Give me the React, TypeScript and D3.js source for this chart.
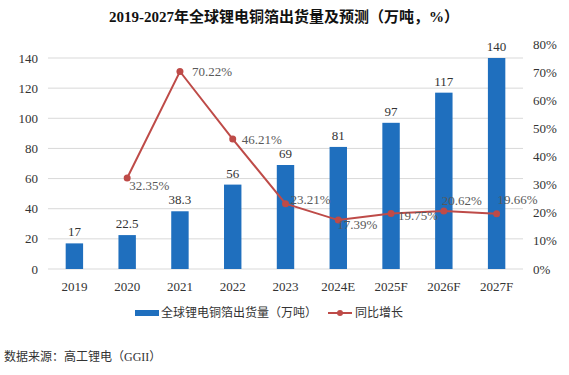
import React from "react";
import * as d3 from "d3";

const categories = ["2019", "2020", "2021", "2022", "2023", "2024E", "2025F", "2026F", "2027F"];
const shipments = [17, 22.5, 38.3, 56, 69, 81, 97, 117, 140];
const shipmentLabels = ["17", "22.5", "38.3", "56", "69", "81", "97", "117", "140"];
const growth: (number | null)[] = [null, 32.35, 70.22, 46.21, 23.21, 17.39, 19.75, 20.62, 19.66];
const leftTicks = [0, 20, 40, 60, 80, 100, 120, 140];
const rightTicks = [0, 10, 20, 30, 40, 50, 60, 70, 80];
// label placement relative to point: [dx, dy of text centre]
const growthLabelOffsets: [number, number][] = [
  [0, 0], [2, 7], [12, 0], [9, 0], [5, -4], [-1, 4], [7, 2], [-2, -11], [1, -14],
];

const W = 569, H = 375;
const M = { left: 48, right: 523, top: 58, bottom: 269 };
const RIGHT_TOP = 44;
const FONT = "'Liberation Serif', 'Times New Roman', 'Noto Sans CJK SC', serif";
const CJK = "'Liberation Serif', 'Noto Sans CJK SC', serif";

export default function App() {
  const x = d3.scaleBand<string>().domain(categories).range([M.left, M.right]).paddingInner(0.67).paddingOuter(0.335);
  const y = d3.scaleLinear().domain([0, 140]).range([M.bottom, M.top]);
  const y2 = d3.scaleLinear().domain([0, 80]).range([M.bottom, RIGHT_TOP]);
  const cx = (c: string) => (x(c) as number) + x.bandwidth() / 2;
  const pts = categories
    .map((c, i) => ({ c, v: growth[i], i }))
    .filter((d) => d.v !== null) as { c: string; v: number; i: number }[];
  const line = d3.line<{ c: string; v: number }>().x((d) => cx(d.c)).y((d) => y2(d.v));

  return (
    <svg width={W} height={H} style={{ position: "absolute", left: 0, top: 0, background: "#fff" }}>
      <rect width={W} height={H} fill="#fff" />
      <text x={284} y={22} textAnchor="middle" fontFamily={CJK} fontWeight="bold" fontSize={15} fill="#111">
        2019-2027年全球锂电铜箔出货量及预测（万吨，%）
      </text>
      {leftTicks.map((t) => (
        <g key={t}>
          <line x1={M.left} x2={M.right} y1={y(t)} y2={y(t)} stroke="#d9d9d9" strokeWidth={1} />
          <text x={38} y={y(t) + 4.5} textAnchor="end" fontFamily={FONT} fontSize={13} fill="#333">{t}</text>
        </g>
      ))}
      {rightTicks.map((t) => (
        <text key={t} x={533} y={y2(t) + 4.5} textAnchor="start" fontFamily={FONT} fontSize={13} fill="#333">{t}%</text>
      ))}
      {categories.map((c, i) => (
        <g key={c}>
          <rect x={x(c)} y={y(shipments[i])} width={x.bandwidth()} height={M.bottom - y(shipments[i])} fill="#1f6fbe" />
          <text x={cx(c)} y={y(shipments[i]) - 7} textAnchor="middle" fontFamily={FONT} fontSize={13} fill="#333">{shipmentLabels[i]}</text>
          <text x={cx(c)} y={291} textAnchor="middle" fontFamily={FONT} fontSize={13} fill="#333">{c}</text>
        </g>
      ))}
      <path d={line(pts) || ""} fill="none" stroke="#be4b48" strokeWidth={2} />
      {pts.map((d) => (
        <circle key={d.c} cx={cx(d.c)} cy={y2(d.v)} r={3.5} fill="#be4b48" />
      ))}
      {pts.map((d) => (
        <text key={d.c + "l"} x={cx(d.c) + growthLabelOffsets[d.i][0]} y={y2(d.v) + growthLabelOffsets[d.i][1] + 4.5} textAnchor="start" fontFamily={FONT} fontSize={13} fill="#595959">
          {d.v.toFixed(2)}%
        </text>
      ))}
      <rect x={135} y={310} width={24} height={6} fill="#1f6fbe" />
      <text x={161} y={317} fontFamily={CJK} fontSize={12} fill="#333">全球锂电铜箔出货量（万吨）</text>
      <line x1={328} x2={352} y1={313} y2={313} stroke="#be4b48" strokeWidth={2} />
      <circle cx={340} cy={313} r={3} fill="#be4b48" />
      <text x={355} y={317} fontFamily={CJK} fontSize={12} fill="#333">同比增长</text>
      <text x={4} y={361} fontFamily={CJK} fontSize={12} fill="#333">数据来源：高工锂电（GGII）</text>
    </svg>
  );
}
